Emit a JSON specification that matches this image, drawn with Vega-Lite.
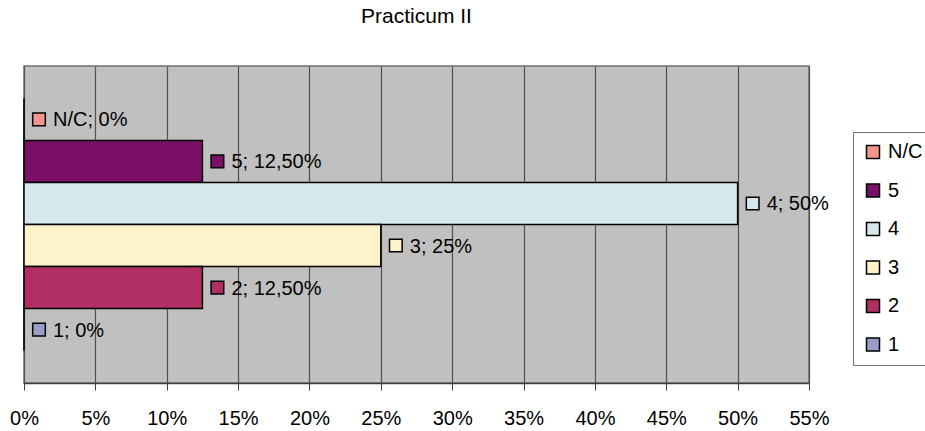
{
  "$schema": "https://vega.github.io/schema/vega-lite/v6.json",
  "width": 785,
  "height": 317,
  "autosize": {"type": "none"},
  "padding": {"left": 24, "top": 66, "right": 116, "bottom": 48},
  "background": "white",
  "config": {
    "font": "Liberation Sans",
    "view": {"fill": "#c0c0c0", "stroke": "#707070", "strokeWidth": 1.5}
  },
  "title": {
    "text": "Practicum II",
    "fontSize": 21,
    "fontWeight": "normal",
    "font": "Liberation Sans",
    "color": "black",
    "anchor": "middle",
    "offset": 39
  },
  "data": {
    "values": [
      {"cat": "N/C", "value": 0, "label": "N/C; 0%"},
      {"cat": "5", "value": 0.125, "label": "5; 12,50%"},
      {"cat": "4", "value": 0.5, "label": "4; 50%"},
      {"cat": "3", "value": 0.25, "label": "3; 25%"},
      {"cat": "2", "value": 0.125, "label": "2; 12,50%"},
      {"cat": "1", "value": 0, "label": "1; 0%"}
    ]
  },
  "encoding": {
    "y": {
      "field": "cat",
      "type": "nominal",
      "sort": ["N/C", "5", "4", "3", "2", "1"],
      "scale": {"paddingInner": 0, "paddingOuter": 0.77},
      "axis": null
    }
  },
  "layer": [
    {
      "mark": {"type": "bar", "stroke": "black", "strokeWidth": 1.5},
      "encoding": {
        "x": {
          "field": "value",
          "type": "quantitative",
          "scale": {"domain": [0, 0.55], "nice": false},
          "axis": {
            "title": null,
            "format": "%",
            "values": [0, 0.05, 0.1, 0.15, 0.2, 0.25, 0.3, 0.35, 0.4, 0.45, 0.5, 0.55],
            "labelFontSize": 20,
            "labelColor": "black",
            "labelFont": "Liberation Sans",
            "labelPadding": 18,
            "labelFlush": false,
            "labelOverlap": false,
            "tickSize": 7,
            "tickColor": "#404040",
            "domainColor": "#404040",
            "domainWidth": 1.5,
            "grid": true,
            "gridColor": "#505050",
            "gridWidth": 1.2,
            "gridOpacity": 1
          }
        },
        "color": {
          "field": "cat",
          "type": "nominal",
          "scale": {
            "domain": ["N/C", "5", "4", "3", "2", "1"],
            "range": ["#f4948a", "#7a1166", "#d5e9ec", "#fdf2c9", "#b12f62", "#9a9dca"]
          },
          "legend": {
            "title": null,
            "orient": "none",
            "legendX": 829,
            "legendY": 66,
            "strokeColor": "#707070",
            "fillColor": "white",
            "padding": 10,
            "symbolType": "square",
            "symbolSize": 169,
            "symbolStrokeColor": "black",
            "symbolStrokeWidth": 1.5,
            "labelFontSize": 20,
            "labelFont": "Liberation Sans",
            "labelColor": "black",
            "rowPadding": 18.5,
            "labelOffset": 5,
            "symbolOpacity": 1
          }
        }
      }
    },
    {
      "mark": {"type": "point", "shape": "square", "size": 160, "filled": true, "stroke": "black", "strokeWidth": 1.5, "xOffset": 15, "opacity": 1},
      "encoding": {
        "x": {"field": "value", "type": "quantitative"},
        "fill": {"field": "cat", "type": "nominal", "legend": null, "scale": {
            "domain": ["N/C", "5", "4", "3", "2", "1"],
            "range": ["#f4948a", "#7a1166", "#d5e9ec", "#fdf2c9", "#b12f62", "#9a9dca"]
          }}
      }
    },
    {
      "mark": {"type": "text", "align": "left", "baseline": "middle", "dx": 29, "dy": 1, "fontSize": 20, "font": "Liberation Sans", "color": "black"},
      "encoding": {
        "x": {"field": "value", "type": "quantitative"},
        "text": {"field": "label"}
      }
    }
  ]
}
